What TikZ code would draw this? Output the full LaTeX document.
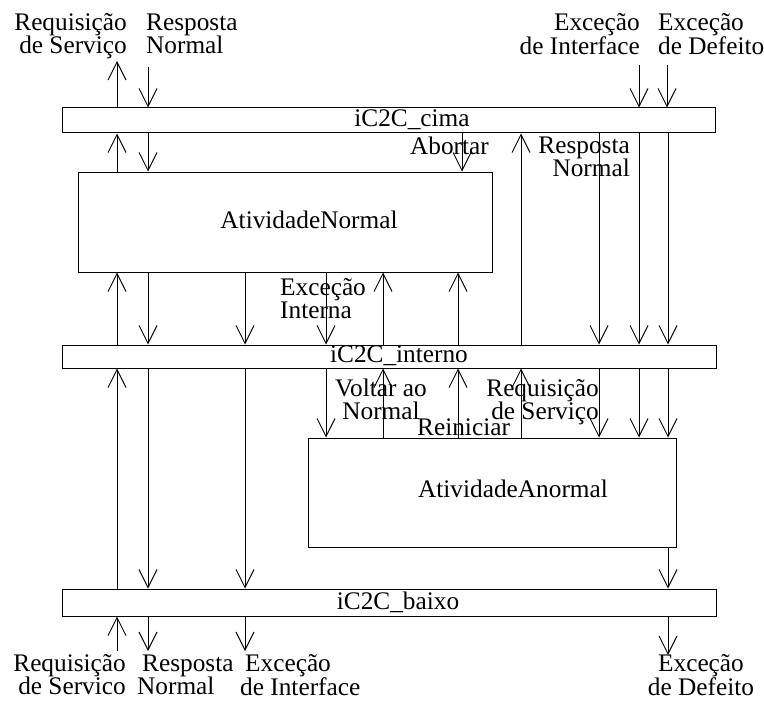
\documentclass[tikz,border=0pt]{standalone}
\usepackage{fontspec}
\setmainfont{Liberation Serif}
\usetikzlibrary{arrows.meta}
% fixed height for the first line of two-line labels
\newcommand{\lblstrut}{\rule{0pt}{20pt}}
\begin{document}
\begin{tikzpicture}[x=1pt,y=-1pt,
  every node/.style={inner sep=0pt, font=\fontsize{25.3}{23}\selectfont},
  block/.style={draw, line width=1pt, minimum width=#1},
  arr/.style={line width=1pt, -{Straight Barb[length=18pt,width=18pt]}}]
\useasboundingbox (0,0) rectangle (764,701);

% connector bars
\node[block=653, minimum height=25] (cima)    at (388.5,120.5) {};
\node[block=654, minimum height=23] (interno) at (389,356.5) {};
\node[block=654, minimum height=27] (baixo)   at (389,602.5) {};
\node[anchor=base] (cimalbl)    at (412,127) {iC2C\_cima};
\node[anchor=base] (internolbl) at (399,362) {iC2C\_interno};
\node[anchor=base] (baixolbl)   at (398,609) {iC2C\_baixo};

% activity boxes
\node[block=414, minimum height=100] (normal)  at (285,222) {};
\node[block=368, minimum height=109] (anormal) at (492,492.5) {};
\node[anchor=base] (normallbl)  at (309,228) {AtividadeNormal};
\node[anchor=base] (anormallbl) at (513,497) {AtividadeAnormal};

% external ends above and below
\coordinate (tA) at (117,61);
\coordinate (tB) at (148,67);
\coordinate (tC) at (639,65);
\coordinate (tD) at (667,65);
\coordinate (bA) at (117,651);
\coordinate (bB) at (148,651);
\coordinate (bC) at (245,651);
\coordinate (bD) at (668,655);

\draw[arr] (tA |- cima.north) -- (tA);
\foreach \c in {tB,tC,tD} \draw[arr] (\c) -- (\c |- cima.north);
\draw[arr] (bA) -- (bA |- baixo.south);
\foreach \c in {bB,bC,bD} \draw[arr] (\c |- baixo.south) -- (\c);

% cima <-> AtividadeNormal
\draw[arr] (117,0 |- normal.north) -- (117,0 |- cima.south);
\foreach \x in {148,462} \draw[arr] (\x,0 |- cima.south) -- (\x,0 |- normal.north);
% cima <-> interno
\draw[arr] (521,0 |- interno.north) -- (521,0 |- cima.south);
\foreach \x in {599,639,668} \draw[arr] (\x,0 |- cima.south) -- (\x,0 |- interno.north);
% AtividadeNormal <-> interno
\foreach \x in {117,383,458} \draw[arr] (\x,0 |- interno.north) -- (\x,0 |- normal.south);
\foreach \x in {148,245,326} \draw[arr] (\x,0 |- normal.south) -- (\x,0 |- interno.north);
% interno <-> AtividadeAnormal
\foreach \x in {383,458,521} \draw[arr] (\x,0 |- anormal.north) -- (\x,0 |- interno.south);
\foreach \x in {326,599,639,668} \draw[arr] (\x,0 |- interno.south) -- (\x,0 |- anormal.north);
% interno <-> baixo
\draw[arr] (117,0 |- baixo.north) -- (117,0 |- interno.south);
\foreach \x in {148,245} \draw[arr] (\x,0 |- interno.south) -- (\x,0 |- baixo.north);
% AtividadeAnormal -> baixo
\draw[arr] (668,0 |- anormal.south) -- (668,0 |- baixo.north);

% labels, top
\node[anchor=north east, align=right] (ltA) at (127,10) {\lblstrut Requisição\\de Serviço};
\node[anchor=north west, align=left]  (ltB) at (146,10) {\lblstrut Resposta\\Normal};
\node[anchor=north east, align=right] (ltC) at (640,10) {\lblstrut Exceção\\de Interface};
\node[anchor=north west, align=left]  (ltD) at (658,10) {\lblstrut Exceção\\de Defeito};

% labels, inner
\node[anchor=base east] (labort) at (489,154) {Abortar};
\node[anchor=north east, align=right] (lresp) at (630,133) {\lblstrut Resposta\\Normal};
\node[anchor=north west, align=left] (lexc) at (280,275) {\lblstrut Exceção\\Interna};
\node[anchor=north, align=center] (lvolt) at (381,376) {\lblstrut Voltar ao\\Normal};
\node[anchor=base west] (lrein) at (417,435) {Reiniciar};
\node[anchor=north east, align=right] (lreq) at (599,376) {\lblstrut Requisição\\de Serviço};

% labels, bottom
\node[anchor=north east, align=right] (lbA) at (126,651) {\lblstrut Requisição\\de Servico};
\node[anchor=north west, align=left]  (lbB) at (137,651) {\lblstrut\hspace{5pt}Resposta\\Normal};
\node[anchor=north west, align=left]  (lbC) at (240,651) {\lblstrut\hspace{5pt}Exceção\\de Interface};
\node[anchor=north, align=center]     (lbD) at (701,651) {\lblstrut Exceção\\de Defeito};
\end{tikzpicture}
\end{document}
